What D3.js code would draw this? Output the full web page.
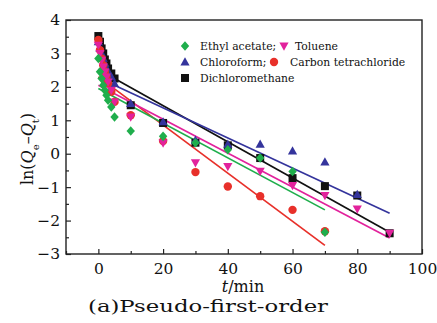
<!DOCTYPE html>
<html><head><meta charset="utf-8">
<script src="https://cdn.jsdelivr.net/npm/d3@7"></script>
<style>body{margin:0;background:#fff}svg{display:block}text{font-family:"DejaVu Serif",serif;fill:#111}</style>
</head><body><svg id="c" width="437" height="323"></svg>
<script>
const seriesNames = ["Dichloromethane","Chloroform","Carbon tetrachloride","Toluene","Ethyl acetate"];
const seriesColors = ["#111111","#34349c","#e8302a","#e2229c","#1fae4c"];
const tEarly = [0,0.5,1,1.5,2,2.5,3,4,5];
const tLate = [10,20,30,40,50,60,70,80,90];
const dichloromethane = [3.52,3.35,3.15,3.0,2.82,2.7,2.55,2.4,2.25, 1.45,0.92,0.33,0.25,-0.13,-0.73,-0.97,-1.25,-2.38];
const chloroform      = [3.35,3.15,3.0,2.85,2.7,2.55,2.45,2.3,2.1, 1.5,0.95,0.4,0.28,0.28,0.08,-0.25,-1.22];
const carbonTet       = [3.4,3.1,2.85,2.65,2.45,2.3,2.1,1.85,1.55, 1.15,0.38,-0.55,-0.98,-1.27,-1.68,-2.32];
const toluene         = [3.25,3.0,2.8,2.6,2.45,2.3,2.15,1.9,1.55, 1.1,0.32,-0.27,-0.38,-0.52,-0.95,-1.25,-1.65,-2.38];
const ethylAcetate    = [2.85,2.45,2.25,2.05,1.9,1.75,1.6,1.4,1.1, 0.68,0.52,0.33,0.12,-0.13,-0.53,-2.35];
const fitStart = [2.52,2.27,2.3,2.05,1.95];
const fitEnd   = [-2.35,-1.78,-2.74,-2.52,-1.68];
const fitEndT  = [90,90,70,90,70];
const xTicks = [0,20,40,60,80,100];
const yTicks = [-3,-2,-1,0,1,2,3,4];

const svg = d3.select("#c");
const L=66,R=422,T=20,B=254;
const x = d3.scaleLinear().domain([-10,100]).range([L,R]);
const y = d3.scaleLinear().domain([-3,4]).range([B,T]);
const times = tEarly.concat(tLate);
const allVals = [dichloromethane,chloroform,carbonTet,toluene,ethylAcetate];
const shapes = ["square","up","circle","down","diamond"];

function sym(g, shape, color){
  let p;
  if(shape==="square") p=g.append("rect").attr("x",-4).attr("y",-4).attr("width",8).attr("height",8);
  else if(shape==="circle") p=g.append("circle").attr("r",4.2);
  else if(shape==="diamond") p=g.append("path").attr("d","M0,-4.8L4.2,0L0,4.8L-4.2,0Z");
  else if(shape==="up") p=g.append("path").attr("d","M0,-4.8L4.6,3.4L-4.6,3.4Z");
  else p=g.append("path").attr("d","M0,4.8L4.6,-3.4L-4.6,-3.4Z");
  p.attr("fill",color);
}

// fit lines
const lines = svg.append("g");
seriesNames.forEach((n,i)=>{
  lines.append("line").attr("x1",x(0)).attr("y1",y(fitStart[i]))
    .attr("x2",x(fitEndT[i])).attr("y2",y(fitEnd[i]))
    .attr("stroke",seriesColors[i]).attr("stroke-width",1.7);
});
// points
const pts = svg.append("g");
allVals.forEach((vals,i)=>{
  vals.forEach((v,j)=>{
    const g = pts.append("g").attr("transform",`translate(${x(times[j])},${y(v)})`);
    sym(g, shapes[i], seriesColors[i]);
  });
});

// axes
const xAxis = d3.axisBottom(x).tickValues(xTicks).tickSize(-5).tickPadding(9).tickFormat(d3.format("d"));
const xMinor = d3.axisBottom(x).tickValues(d3.range(-10,101,10).filter(d=>d%20!==0)).tickSize(-3).tickFormat("");
const yAxis = d3.axisLeft(y).tickValues(yTicks).tickSize(-5).tickPadding(6).tickFormat(d=>d<0?"\u2212"+(-d):d);
const yMinor = d3.axisLeft(y).tickValues(d3.range(-2.5,4,1)).tickSize(-3).tickFormat("");
function style(g){ g.select(".domain").remove(); g.selectAll("line").attr("stroke","#222").attr("stroke-width",1.2); g.selectAll("text").style("font-family","DejaVu Serif").style("font-size","15.5px").attr("fill","#111"); }
svg.append("g").attr("transform",`translate(0,${B})`).call(xAxis).call(style);
svg.append("g").attr("transform",`translate(0,${B})`).call(xMinor).call(style);
svg.append("g").attr("transform",`translate(${L},0)`).call(yAxis).call(style);
svg.append("g").attr("transform",`translate(${L},0)`).call(yMinor).call(style);
svg.append("rect").attr("x",L).attr("y",T).attr("width",R-L).attr("height",B-T).attr("fill","none").attr("stroke","#222").attr("stroke-width",1.4);

// legend
const leg = svg.append("g").style("font-size","10.8px");
const legRows = [
  [{s:"diamond",c:4,t:"Ethyl acetate;",mx:185,tx:200},{s:"down",c:3,t:"Toluene",mx:284,tx:295}],
  [{s:"up",c:1,t:"Chloroform;",mx:185,tx:200},{s:"circle",c:2,t:"Carbon tetrachloride",mx:274,tx:290}],
  [{s:"square",c:0,t:"Dichloromethane",mx:185,tx:200}]
];
const rowY=[46,62,78];
legRows.forEach((row,r)=>row.forEach(it=>{
  const g=leg.append("g").attr("transform",`translate(${it.mx},${rowY[r]})`);
  sym(g,it.s,seriesColors[it.c]);
  leg.append("text").attr("x",it.tx).attr("y",rowY[r]+4).text(it.t);
}));

// axis titles
const xt = svg.append("text").attr("x",243).attr("y",292).attr("text-anchor","middle").style("font-size","16px");
xt.append("tspan").style("font-style","italic").text("t");
xt.append("tspan").text("/min");
svg.append("text").attr("x",88).attr("y",312).style("font-size","16px")
  .attr("textLength",240).attr("lengthAdjust","spacingAndGlyphs").text("(a)Pseudo-first-order");
const yt = svg.append("text").attr("transform","translate(33,149) rotate(-90)").attr("text-anchor","middle").style("font-size","16px");
yt.append("tspan").text("ln(");
yt.append("tspan").style("font-style","italic").text("Q");
yt.append("tspan").attr("baseline-shift","sub").style("font-size","10px").text("e");
yt.append("tspan").text("\u2013");
yt.append("tspan").style("font-style","italic").text("Q");
yt.append("tspan").attr("baseline-shift","sub").style("font-size","10px").text("t");
yt.append("tspan").text(")");
</script></body></html>
